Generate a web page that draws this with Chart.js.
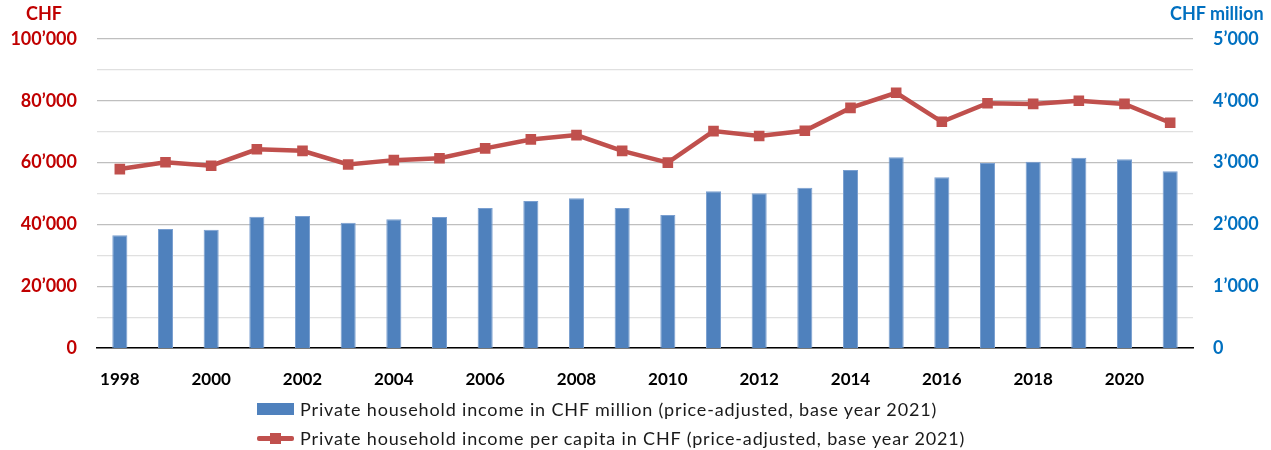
<!DOCTYPE html>
<html>
<head>
<meta charset="utf-8">
<script src="https://cdn.jsdelivr.net/npm/chart.js@4"></script>
<style>
  html, body { margin: 0; padding: 0; background: #fff; }
  #wrap { position: relative; width: 1271px; height: 450px; font-family: Lato, "Open Sans", sans-serif; }
  canvas { position: absolute; left: 0; top: 0; }
  .ttl { position: absolute; font-weight: bold; font-size: 18px; line-height: 18px; }
  #legend { position: absolute; left: 257px; top: 394px; font-size: 18px; letter-spacing: 0.85px; color: #1a1a1a; }
  .li { height: 29px; display: flex; align-items: center; }
  .sw { width: 37px; height: 12px; margin-right: 6px; position: relative; }
</style>
</head>
<body>
<div id="wrap">
  <canvas id="c" width="1271" height="450"></canvas>
  <div class="ttl" style="left:26px; top:4px; color:#C00000;">CHF</div>
  <div class="ttl" style="left:1170px; top:4px; color:#0070C0;">CHF million</div>
  <div id="legend"></div>
</div>
<script>
const years = ['1998','1999','2000','2001','2002','2003','2004','2005','2006','2007','2008','2009','2010','2011','2012','2013','2014','2015','2016','2017','2018','2019','2020','2021'];
const incomeMillion = [1824,1926,1914,2124,2136,2028,2082,2120,2265,2379,2422,2265,2152,2536,2503,2594,2880,3086,2762,2993,3015,3080,3053,2859];
const incomePerCapita = [57900,60100,59000,64300,63800,59400,60800,61400,64600,67500,68900,63800,60000,70200,68600,70300,77700,82600,73200,79200,79000,80000,79000,72900];
const seriesLabels = ['Private household income in CHF million (price-adjusted, base year 2021)','Private household income per capita in CHF (price-adjusted, base year 2021)'];
const leftTicks = [0,20000,40000,60000,80000,100000];
const rightTicks = [0,1000,2000,3000,4000,5000];

const fmt = v => String(v).replace(/\B(?=(\d{3})+(?!\d))/g, '\u2019');
const BLUE = '#4F81BD', RED = '#C0504D';

new Chart(document.getElementById('c'), {
  data: {
    labels: years,
    datasets: [
      { type: 'line', label: seriesLabels[1], data: incomePerCapita, yAxisID: 'y', order: 0,
        borderColor: RED, backgroundColor: RED, borderWidth: 4.5, pointStyle: 'rect',
        pointRadius: 7.5, pointBorderWidth: 0, pointBackgroundColor: RED, tension: 0 },
      { type: 'bar', label: seriesLabels[0], data: incomeMillion, yAxisID: 'y1', order: 1,
        backgroundColor: BLUE, borderColor: '#7A9FD0', borderWidth: {left:1,right:1,top:1,bottom:0},
        barPercentage: 0.33, categoryPercentage: 1 }
    ]
  },
  options: {
    responsive: false, animation: false,
    layout: { padding: { top: 39, left: 0, right: 0, bottom: 0 } },
    plugins: { legend: { display: false }, tooltip: { enabled: false } },
    scales: {
      x: {
        grid: { display: false, drawTicks: false },
        border: { display: true, color: '#000', width: 1.5 },
        ticks: { autoSkip: false, maxRotation: 0, padding: 21, color: '#000',
          font: { family: 'Lato', size: 17, weight: 'bold' },
          callback: function(v, i) { return i % 2 === 0 ? this.getLabelForValue(v) : ''; } },
        afterFit: s => { s.height = 102; }
      },
      y: {
        position: 'left', min: 0, max: 100000,
        ticks: { stepSize: 10000, padding: 20, color: '#C00000',
          font: { family: 'Lato', size: 18, weight: 'bold' },
          callback: v => leftTicks.includes(v) ? fmt(v) : '' },
        grid: { drawTicks: false, lineWidth: 1.2,
          color: ctx => (ctx.tick && leftTicks.includes(ctx.tick.value)) ? '#BFBFBF' : '#E0E0E0' },
        border: { display: false },
        afterFit: s => { s.width = 97; }
      },
      y1: {
        position: 'right', min: 0, max: 5000,
        ticks: { stepSize: 500, padding: 20, color: '#0070C0',
          font: { family: 'Lato', size: 18, weight: 'bold' },
          callback: v => rightTicks.includes(v) ? fmt(v) : '' },
        grid: { display: false, drawTicks: false },
        border: { display: false },
        afterFit: s => { s.width = 78; }
      }
    }
  }
});

// HTML legend built from series labels
const lg = document.getElementById('legend');
lg.innerHTML =
  '<div class="li"><div class="sw" style="background:' + BLUE + '"></div><span>' + seriesLabels[0] + '</span></div>' +
  '<div class="li"><div class="sw" style="background:transparent">' +
    '<div style="position:absolute;left:0;top:4px;width:37px;height:5px;background:' + RED + ';border-radius:2px"></div>' +
    '<div style="position:absolute;left:13px;top:1px;width:11px;height:11px;background:' + RED + '"></div>' +
  '</div><span>' + seriesLabels[1] + '</span></div>';
</script>
</body>
</html>
